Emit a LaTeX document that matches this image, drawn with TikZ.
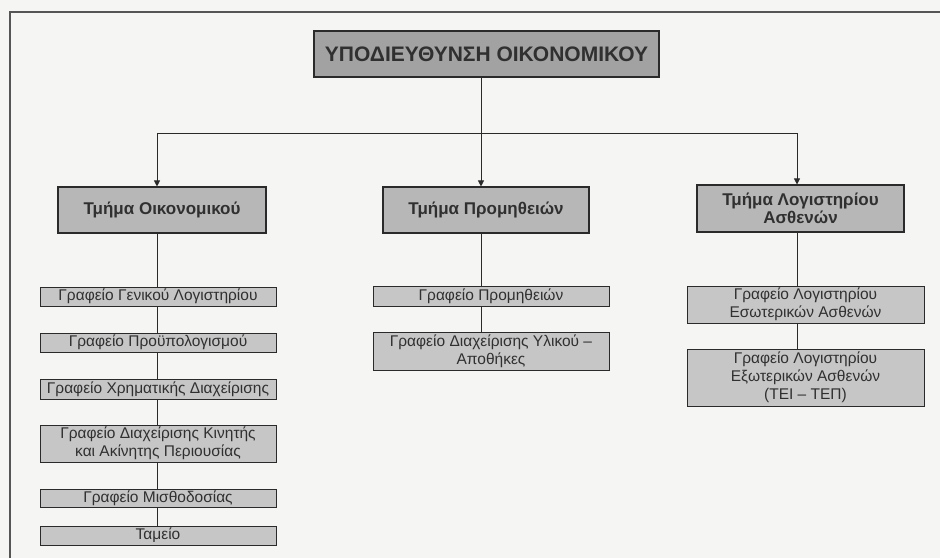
\documentclass[tikz,border=0pt]{standalone}
\usepackage{fontspec}
\setmainfont{Liberation Sans}
\usetikzlibrary{arrows.meta}
\definecolor{paper}{HTML}{F5F5F3}
\definecolor{topfill}{HTML}{A2A2A2}
\definecolor{deptfill}{HTML}{B7B7B7}
\definecolor{officefill}{HTML}{C6C6C6}
\definecolor{ink}{HTML}{2A2A2A}
\definecolor{txt}{HTML}{303030}
\tikzset{
  box/.style={draw=ink, line width=1.1pt, inner sep=0pt, align=center, text=txt},
  headbox/.style={box, fill=topfill, font=\bfseries\fontsize{21}{24}\selectfont},
  deptbox/.style={box, fill=deptfill, font=\bfseries\fontsize{17}{18.5}\selectfont},
  officebox/.style={box, fill=officefill, line width=0.9pt, font=\fontsize{15.5}{18}\selectfont},
  conn/.style={draw=ink, line width=0.8pt},
  arr/.style={conn, -{Triangle[width=6pt,length=6pt]}},
  frame/.style={draw=ink!80, line width=1.4pt}
}
\begin{document}
\begin{tikzpicture}[x=1pt,y=-1pt]
\fill[paper] (0,0) rectangle (940,558);
\useasboundingbox (0,0) rectangle (940,558);
\draw[frame] (10,558) -- (10,12) -- (940,12);

\coordinate (cl) at (157,0);
\coordinate (cm) at (481,0);
\coordinate (cr) at (797,0);
\coordinate (bus) at (0,133);

\node[headbox, minimum width=345pt, minimum height=46pt] (top) at (486.5,54) {ΥΠΟΔΙΕΥΘΥΝΣΗ ΟΙΚΟΝΟΜΙΚΟΥ};

\node[deptbox, minimum width=208pt, minimum height=46pt] (t1) at (162,210) {Τμήμα Οικονομικού};
\node[deptbox, minimum width=206pt, minimum height=46pt] (t2) at (486,210) {Τμήμα Προμηθειών};
\node[deptbox, minimum width=207pt, minimum height=47pt] (t3) at (800.5,208.5) {Τμήμα Λογιστηρίου\\Ασθενών};

\node[officebox, minimum width=236pt, minimum height=19pt] (g1) at (158,296.5) {Γραφείο Γενικού Λογιστηρίου};
\node[officebox, minimum width=236pt, minimum height=19pt] (g2) at (158,342.5) {Γραφείο Προϋπολογισμού};
\node[officebox, minimum width=236pt, minimum height=20pt] (g3) at (158,389) {Γραφείο Χρηματικής Διαχείρισης};
\node[officebox, minimum width=236pt, minimum height=37pt] (g4) at (158,443.5) {Γραφείο Διαχείρισης Κινητής\\και Ακίνητης Περιουσίας};
\node[officebox, minimum width=236pt, minimum height=18pt] (g5) at (158,498) {Γραφείο Μισθοδοσίας};
\node[officebox, minimum width=236pt, minimum height=19pt] (g6) at (158,535.5) {Ταμείο};

\node[officebox, minimum width=236pt, minimum height=20pt] (m1) at (491,296) {Γραφείο Προμηθειών};
\node[officebox, minimum width=236pt, minimum height=38pt] (m2) at (491,351) {Γραφείο Διαχείρισης Υλικού –\\Αποθήκες};

\node[officebox, minimum width=237pt, minimum height=37pt] (r1) at (805.5,304.5) {Γραφείο Λογιστηρίου\\Εσωτερικών Ασθενών};
\node[officebox, minimum width=237pt, minimum height=57pt] (r2) at (805.5,377.5) {Γραφείο Λογιστηρίου\\Εξωτερικών Ασθενών\\(ΤΕΙ – ΤΕΠ)};

% tree from head
\draw[conn] (top.south -| cm) -- (cm |- bus);
\draw[conn] (cl |- bus) -- (cr |- bus);
\draw[arr] (cl |- bus) -- (t1.north -| cl);
\draw[arr] (cm |- bus) -- (t2.north -| cm);
\draw[arr] (cr |- bus) -- (t3.north -| cr);

% left column
\draw[conn] (t1.south -| cl) -- (g1.north -| cl);
\draw[conn] (g1.south -| cl) -- (g2.north -| cl);
\draw[conn] (g2.south -| cl) -- (g3.north -| cl);
\draw[conn] (g3.south -| cl) -- (g4.north -| cl);
\draw[conn] (g4.south -| cl) -- (g5.north -| cl);
\draw[conn] (g5.south -| cl) -- (g6.north -| cl);

% middle column
\draw[conn] (t2.south -| cm) -- (m1.north -| cm);
\draw[conn] (m1.south -| cm) -- (m2.north -| cm);

% right column
\draw[conn] (t3.south -| cr) -- (r1.north -| cr);
\draw[conn] (r1.south -| cr) -- (r2.north -| cr);
\end{tikzpicture}
\end{document}
